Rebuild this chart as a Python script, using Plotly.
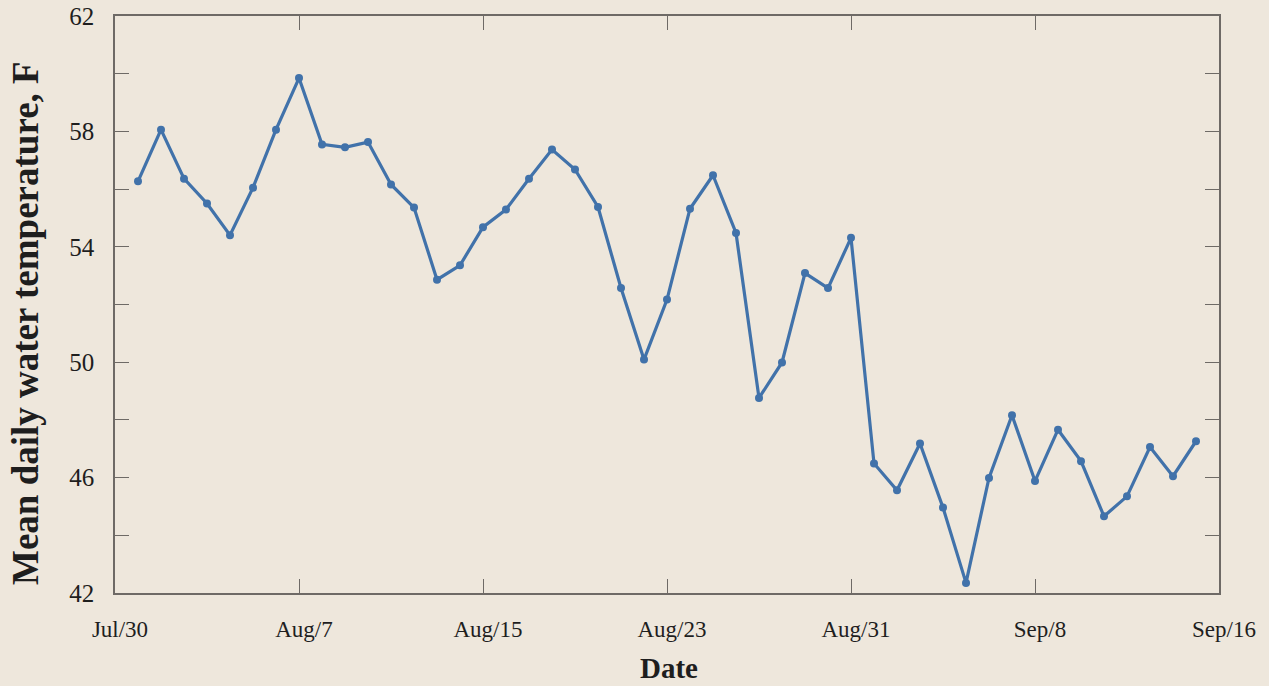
import plotly.graph_objects as go
import pandas as pd

dates = pd.date_range("2023-07-31", "2023-09-15", freq="D").strftime("%Y-%m-%d").tolist()
temps = [
    56.27, 58.06, 56.36, 55.50, 54.40, 56.05, 58.06, 59.85, 57.55, 57.45,
    57.63, 56.16, 55.36, 52.86, 53.36, 54.68, 55.29, 56.36, 57.37, 56.68,
    55.38, 52.57, 50.09, 52.17, 55.32, 56.48, 54.48, 48.76, 49.99, 53.09,
    52.57, 54.31, 46.49, 45.56, 47.18, 44.96, 42.35, 45.99, 48.16, 45.88,
    47.66, 46.57, 44.66, 45.35, 47.06, 46.05, 47.26,
]
tick_dates = ["2023-07-30", "2023-08-07", "2023-08-15", "2023-08-23",
              "2023-08-31", "2023-09-08", "2023-09-16"]
tick_labels = ["Jul/30", "Aug/7", "Aug/15", "Aug/23", "Aug/31", "Sep/8", "Sep/16"]
y_ticks = [42, 46, 50, 54, 58, 62]
x_title = "Date"
y_title = "Mean daily water temperature, F"

bg = "#EEE7DC"
frame = "#6E6A66"
txt = "#1E1E1E"
serif = "Liberation Serif, Times New Roman, serif"

fig = go.Figure(go.Scatter(
    x=dates, y=temps, mode="lines+markers",
    line=dict(color="#4172AA", width=3.2),
    marker=dict(color="#4172AA", size=8),
    hoverinfo="x+y",
))

L, R, T, B = 115, 50, 16, 93
W, H = 1269, 686
pw, ph = W - L - R, H - T - B

fig.update_layout(
    width=W, height=H,
    margin=dict(l=L, r=R, t=T, b=B),
    paper_bgcolor=bg, plot_bgcolor=bg,
    showlegend=False,
    font=dict(family=serif, color=txt),
    annotations=[
        dict(text="<b>%s</b>" % y_title, textangle=-90, showarrow=False,
             xref="paper", yref="paper", x=(25 - L) / pw, y=(H - B - 323) / ph,
             xanchor="center", yanchor="middle",
             font=dict(family=serif, size=37, color=txt)),
        dict(text="<b>%s</b>" % x_title, showarrow=False,
             xref="paper", yref="paper", x=(669 - L) / pw, y=(H - B - 668) / ph,
             xanchor="center", yanchor="middle",
             font=dict(family=serif, size=29, color=txt)),
    ],
)
fig.update_xaxes(
    type="date", range=["2023-07-30", "2023-09-16"], automargin=False,
    tickmode="array", tickvals=tick_dates, ticktext=tick_labels,
    ticks="inside", ticklen=14, tickcolor=frame, tickwidth=1,
    ticklabelstandoff=15, ticklabelshift=5,
    showline=True, linecolor=frame, linewidth=1.5, mirror="ticks",
    showgrid=False, zeroline=False,
    tickfont=dict(family=serif, size=23, color=txt),
)
fig.update_yaxes(
    range=[42, 62], automargin=False,
    tickmode="array", tickvals=y_ticks,
    ticks="inside", ticklen=14, tickcolor=frame, tickwidth=1,
    ticklabelstandoff=14,
    minor=dict(dtick=2, tick0=42, ticks="inside", ticklen=14, tickcolor=frame, tickwidth=1, showgrid=False),
    showline=True, linecolor=frame, linewidth=1.5, mirror="ticks",
    showgrid=False, zeroline=False,
    tickfont=dict(family=serif, size=25, color=txt),
)

fig.write_html("out.html", config={"displayModeBar": False},
               post_script="document.body.style.margin='0';document.body.style.background='%s';" % bg)
